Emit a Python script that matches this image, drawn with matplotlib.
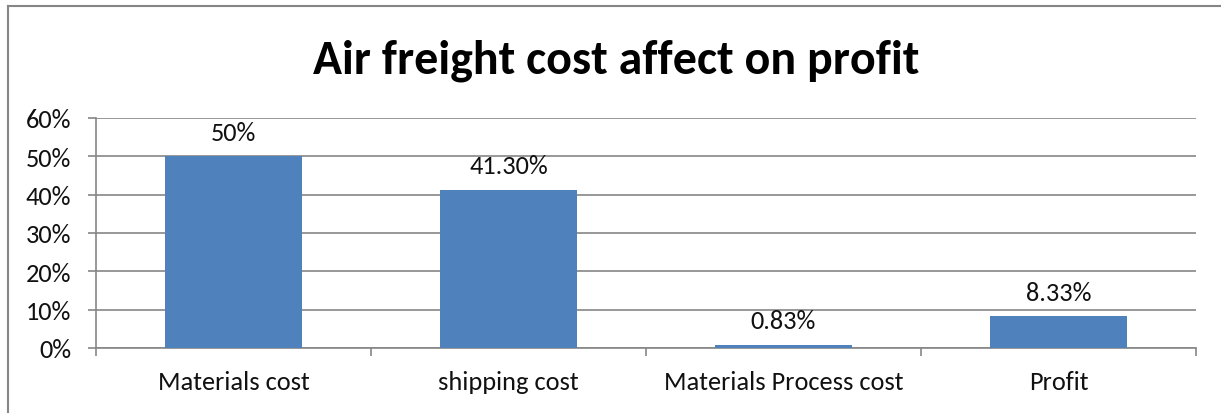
import numpy as np
import matplotlib
matplotlib.use("Agg")
import matplotlib.pyplot as plt
from matplotlib.ticker import FuncFormatter

categories = ["Materials cost", "shipping cost", "Materials Process cost", "Profit"]
shares = [50.0, 41.30, 0.83, 8.33]          # porcentaje
labels = ["50%", "41.30%", "0.83%", "8.33%"]
yticks = [0, 10, 20, 30, 40, 50, 60]

plt.rcParams["font.family"] = ["Carlito", "Open Sans", "DejaVu Sans"]

W, H = 1221, 414
fig = plt.figure(figsize=(W / 100, H / 100), dpi=100)

# marco del grafico (solo arriba e izquierda visibles)
gray = "#868686"
fig.add_artist(plt.Line2D([8 / W, 1.0], [1 - 7 / H, 1 - 7 / H], color=gray, lw=1.5))
fig.add_artist(plt.Line2D([8 / W, 8 / W], [0.0, 1 - 7 / H], color=gray, lw=1.5))

ax = fig.add_axes([96 / W, 65 / H, 1100 / W, 230 / H])
x = np.arange(len(categories))
ax.bar(x, shares, width=0.5, color="#4F81BD", zorder=3)
for xi, v, lab in zip(x, shares, labels):
    ax.annotate(lab, (xi, v), xytext=(0, 9), textcoords="offset points",
                ha="center", va="bottom", fontsize=19, color="#111111")

ax.set_xlim(-0.5, len(categories) - 0.5)
ax.set_ylim(0, 60)
ax.set_yticks(yticks)
ax.yaxis.set_major_formatter(FuncFormatter(lambda v, p: f"{v:.0f}%"))
ax.grid(axis="y", color=gray, lw=1.2, zorder=0)

ax.set_xticks(np.arange(-0.5, len(categories)), [])
ax.set_xticks(x, categories, minor=True)
ax.tick_params(axis="x", which="major", length=6, width=1.2, color=gray, direction="out")
ax.tick_params(axis="x", which="minor", length=0, pad=16, labelsize=19, labelcolor="#111111")
ax.tick_params(axis="y", length=6, width=1.2, color=gray, labelsize=19, pad=12,
               labelcolor="#111111")

for s in ["top", "right"]:
    ax.spines[s].set_visible(False)
for s in ["left", "bottom"]:
    ax.spines[s].set_color(gray)
    ax.spines[s].set_linewidth(1.2)

fig.text(0.505, 1 - 61 / H, "Air freight cost affect on profit",
         ha="center", va="center", fontsize=34.5, fontweight="bold")

fig.savefig("out.png", dpi=100)
